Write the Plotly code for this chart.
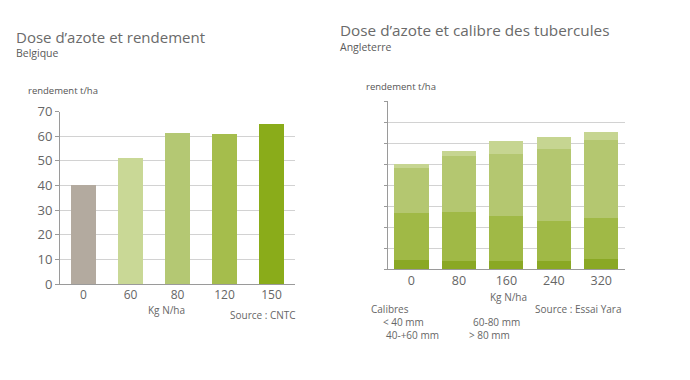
import plotly.graph_objects as go

W, H = 690, 380
OFF = 8  # page body margin offset of the rendered figure

# ---- data: left chart (Belgique) ----
doses_be = ["0", "60", "80", "120", "150"]
rendement_be = [40, 51, 61.5, 61, 65]
colors_be = ["#b3aa9f", "#c9d896", "#b4c873", "#a5bd4c", "#8aac1a"]

# ---- data: right chart (Angleterre) ----
doses_uk = ["0", "80", "160", "240", "320"]
cal_lt40 = [4.2, 3.8, 3.9, 3.8, 4.8]
cal_40_60 = [22.4, 23.3, 21.5, 19.4, 19.5]
cal_60_80 = [21.5, 27.1, 29.7, 33.9, 37.1]
cal_gt80 = [2.1, 2.4, 5.9, 5.8, 3.9]
calibre_names = ["< 40 mm", "40-+60 mm", "60-80 mm", "> 80 mm"]
calibre_colors = ["#8aa824", "#a0b946", "#b4c770", "#c6d591"]


def px(x):
    return (x - OFF) / W


def py(y):
    return 1 - (y - OFF) / H


FONT = "Open Sans"
fig = go.Figure()

fig.add_trace(go.Bar(
    x=doses_be, y=rendement_be, marker=dict(color=colors_be, line=dict(width=0)),
    width=0.53, xaxis="x", yaxis="y", showlegend=False))

for vals, name, col in zip([cal_lt40, cal_40_60, cal_60_80, cal_gt80], calibre_names, calibre_colors):
    fig.add_trace(go.Bar(
        x=doses_uk, y=vals, name=name, marker=dict(color=col, line=dict(width=0)),
        width=0.72, xaxis="x2", yaxis="y2", showlegend=False))

axis_common = dict(showline=True, linecolor="#9a9a9a", linewidth=1)

fig.update_layout(
    width=W, height=H, margin=dict(l=0, r=0, t=0, b=0),
    paper_bgcolor="white", plot_bgcolor="white", barmode="stack",
    font=dict(family=FONT, color="#555555"),
    xaxis=dict(domain=[px(60), px(295)], type="category", anchor="y",
               tickfont=dict(size=12, color="#666666"), ticks="", showgrid=False,
               **axis_common),
    yaxis=dict(domain=[py(288.3), py(107.3)], range=[0, 70], dtick=10, anchor="x",
               showgrid=True, gridcolor="#d2d2d2", gridwidth=1, zeroline=False,
               ticks="outside", ticklen=4, tickcolor="#9a9a9a",
               tickfont=dict(size=13, color="#666666"), **axis_common),
    xaxis2=dict(domain=[px(387.7), px(625)], type="category", anchor="y2",
                tickfont=dict(size=12.5, color="#666666"), ticks="", showgrid=False,
                **axis_common),
    yaxis2=dict(domain=[py(272.7), py(96.7)], range=[0, 80], dtick=10, anchor="x2",
                showgrid=True, gridcolor="#d2d2d2", gridwidth=1, zeroline=False,
                showticklabels=False, ticks="outside", ticklen=3, tickcolor="#9a9a9a",
                **axis_common),
)


def label(x, y, text, size, color="#555555", xanchor="left"):
    fig.add_annotation(x=px(x), y=py(y), xref="paper", yref="paper", text=text,
                       showarrow=False, xanchor=xanchor, yanchor="middle",
                       font=dict(family=FONT, size=size, color=color))


# left chart texts
label(14, 29, "Dose d\u2019azote et rendement", 15, "#6a6a6a")
label(14, 46, "Belgique", 10.5, "#5a5a5a")
label(26, 85, "rendement t/ha", 9.5, "#555555")
label(166, 316, "Kg N/ha", 10, "#666666", "center")
label(298, 321, "Source : CNTC", 10, "#666666", "right")

# right chart texts
label(338, 22, "Dose d\u2019azote et calibre des tubercules", 15.3, "#6a6a6a")
label(338, 40, "Angleterre", 10.5, "#5a5a5a")
label(364, 81, "rendement t/ha", 9.5, "#555555")
label(508, 302, "Kg N/ha", 10, "#666666", "center")
label(369, 314, "Calibres", 10, "#666666")
label(624, 314, "Source : Essai Yara", 10, "#666666", "right")
label(381, 328, calibre_names[0], 10, "#666666")
label(384, 342, calibre_names[1], 10, "#666666")
label(471, 328, calibre_names[2], 10, "#666666")
label(467, 342, calibre_names[3], 10, "#666666")

fig.write_html("out.html")
